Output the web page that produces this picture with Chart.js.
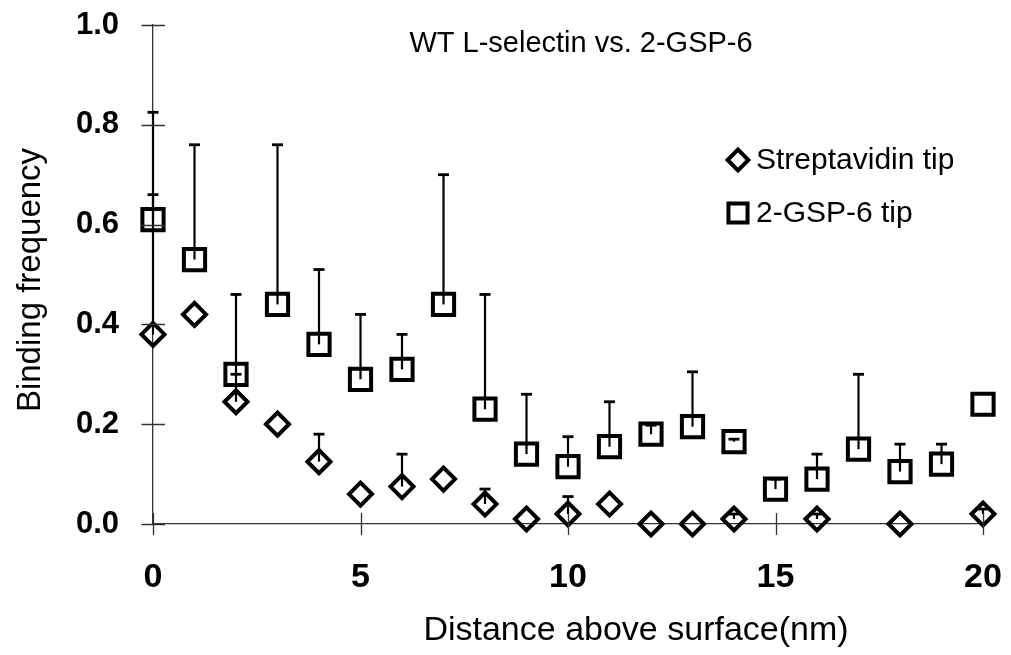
<!DOCTYPE html>
<html>
<head>
<meta charset="utf-8">
<script src="https://cdn.jsdelivr.net/npm/chart.js@4/dist/chart.umd.min.js"></script>
<style>
  html, body { margin: 0; padding: 0; background: #fff; }
  #wrap { width: 1011px; height: 655px; }
</style>
</head>
<body>
<div id="wrap"><canvas id="chart" width="1011" height="655"></canvas></div>
<script>
const distance = [0, 1, 2, 3, 4, 5, 6, 7, 8, 9, 10, 11, 12, 13, 14, 15, 16, 17, 18, 19, 20];

// binding frequency, streptavidin tip (gaps where not measured)
const streptavidin = [0.38, 0.42, 0.245, 0.20, 0.125, 0.06, 0.075, 0.09, 0.04, 0.01, 0.02,
  0.04, 0, 0, 0.01, null, 0.01, null, 0, null, 0.02];
const streptavidinSD = [0.28, 0, 0.055, 0, 0.055, 0, 0.065, 0, 0.03, 0, 0.035,
  0, 0, 0, 0.01, null, 0.01, null, 0, null, 0.01];

// binding frequency, 2-GSP-6 tip
const gsp6 = [0.61, 0.53, 0.30, 0.44, 0.36, 0.29, 0.31, 0.44, 0.23, 0.14, 0.115,
  0.155, 0.18, 0.195, 0.165, 0.07, 0.09, 0.15, 0.105, 0.12, 0.24];
const gsp6SD = [0.215, 0.23, 0.16, 0.32, 0.15, 0.13, 0.07, 0.26, 0.23, 0.12, 0.06,
  0.09, 0.018, 0.11, 0.005, 0.02, 0.05, 0.15, 0.055, 0.04, 0];

const xTicks = [0, 5, 10, 15, 20];
const yTicks = [0, 0.2, 0.4, 0.6, 0.8, 1.0];

const FONT = "'Liberation Sans', Arial, sans-serif";

function points(ys, sd) {
  const out = [];
  distance.forEach((d, i) => {
    if (ys[i] !== null) out.push({ x: d, y: ys[i], sd: sd[i] || 0 });
  });
  return out;
}

// upper-only error bars with a cap
const errorBars = {
  id: 'errorBars',
  beforeDatasetsDraw(chart) {
    const { ctx, scales: { x, y } } = chart;
    ctx.save();
    ctx.strokeStyle = '#000';
    chart.data.datasets.forEach(ds => {
      ds.data.forEach(p => {
        if (!p.sd) return;
        const px = x.getPixelForValue(p.x);
        const y0 = y.getPixelForValue(p.y);
        const y1 = y.getPixelForValue(p.y + p.sd);
        ctx.lineWidth = 2.2;
        ctx.beginPath();
        ctx.moveTo(px, y0);
        ctx.lineTo(px, y1);
        ctx.stroke();
        ctx.lineWidth = 2.8;
        ctx.beginPath();
        ctx.moveTo(px - 5.5, y1);
        ctx.lineTo(px + 5.5, y1);
        ctx.stroke();
      });
    });
    ctx.restore();
  }
};

// tick marks that cross the axis lines
const crossTicks = {
  id: 'crossTicks',
  afterDraw(chart) {
    const { ctx, scales: { x, y } } = chart;
    ctx.save();
    ctx.strokeStyle = '#333';
    ctx.lineWidth = 1.3;
    ctx.beginPath();
    xTicks.forEach(v => {
      const px = Math.round(x.getPixelForValue(v)) + 0.5;
      ctx.moveTo(px, y.bottom - 11);
      ctx.lineTo(px, y.bottom + 11);
    });
    yTicks.forEach(v => {
      const py = Math.round(y.getPixelForValue(v)) + 0.5;
      ctx.moveTo(x.left - 11.5, py);
      ctx.lineTo(x.left + 12, py);
    });
    ctx.stroke();
    ctx.restore();
  }
};

// title, axis titles and the legend in the upper right
const annotations = {
  id: 'annotations',
  afterDraw(chart) {
    const { ctx } = chart;
    ctx.save();
    ctx.fillStyle = '#000';
    ctx.textBaseline = 'middle';
    ctx.textAlign = 'center';
    ctx.font = '29px ' + FONT;
    ctx.fillText('WT L-selectin vs. 2-GSP-6', 581, 44);

    ctx.font = '34px ' + FONT;
    ctx.fillText('Distance above surface(nm)', 636, 631);

    ctx.save();
    ctx.translate(31, 280);
    ctx.rotate(-Math.PI / 2);
    ctx.font = '33px ' + FONT;
    ctx.fillText('Binding frequency', 0, 0);
    ctx.restore();

    ctx.textAlign = 'left';
    ctx.font = '30px ' + FONT;
    const rows = [160, 213];
    chart.data.datasets.forEach((ds, i) => {
      ctx.fillStyle = 'rgba(0,0,0,0)';
      ctx.strokeStyle = '#000';
      ctx.lineWidth = ds.pointBorderWidth;
      Chart.helpers.drawPoint(ctx, {
        pointStyle: ds.pointStyle,
        radius: ds.pointRadius * 0.9,
        borderWidth: ds.pointBorderWidth
      }, 738, rows[i]);
      ctx.fillStyle = '#000';
      ctx.fillText(ds.label, 756, rows[i] + 1);
    });
    ctx.restore();
  }
};

new Chart(document.getElementById('chart'), {
  type: 'scatter',
  data: {
    datasets: [
      {
        label: 'Streptavidin tip',
        data: points(streptavidin, streptavidinSD),
        pointStyle: 'rectRot',
        pointRadius: 11.5,
        pointBorderWidth: 4,
        borderColor: '#000',
        backgroundColor: 'rgba(0,0,0,0)',
        clip: false
      },
      {
        label: '2-GSP-6 tip',
        data: points(gsp6, gsp6SD),
        pointStyle: 'rect',
        pointRadius: 15,
        pointBorderWidth: 4,
        borderColor: '#000',
        backgroundColor: 'rgba(0,0,0,0)',
        clip: false
      }
    ]
  },
  options: {
    responsive: false,
    animation: false,
    events: [],
    layout: { padding: { left: 0, top: 25, right: 28, bottom: 0 } },
    plugins: {
      legend: { display: false },
      tooltip: { enabled: false }
    },
    scales: {
      x: {
        type: 'linear',
        min: 0,
        max: 20,
        afterBuildTicks: s => { s.ticks = xTicks.map(v => ({ value: v })); },
        afterFit: s => {
          s.height = 131;
          s.paddingLeft = 0;
          s.paddingRight = 0;
        },
        grid: { display: false, drawTicks: false },
        border: { display: true, color: '#333', width: 1.3 },
        ticks: {
          color: '#000',
          padding: 33,
          font: { family: FONT, size: 34, weight: 'bold' }
        }
      },
      y: {
        type: 'linear',
        min: 0,
        max: 1,
        afterBuildTicks: s => { s.ticks = yTicks.map(v => ({ value: v })); },
        afterFit: s => {
          s.width = 153;
          s.paddingTop = 0;
          s.paddingBottom = 0;
        },
        grid: { display: false, drawTicks: false },
        border: { display: true, color: '#333', width: 1.3 },
        ticks: {
          color: '#000',
          padding: 34,
          font: { family: FONT, size: 31, weight: 'bold' },
          callback: v => v.toFixed(1)
        }
      }
    }
  },
  plugins: [errorBars, crossTicks, annotations]
});
</script>
</body>
</html>
